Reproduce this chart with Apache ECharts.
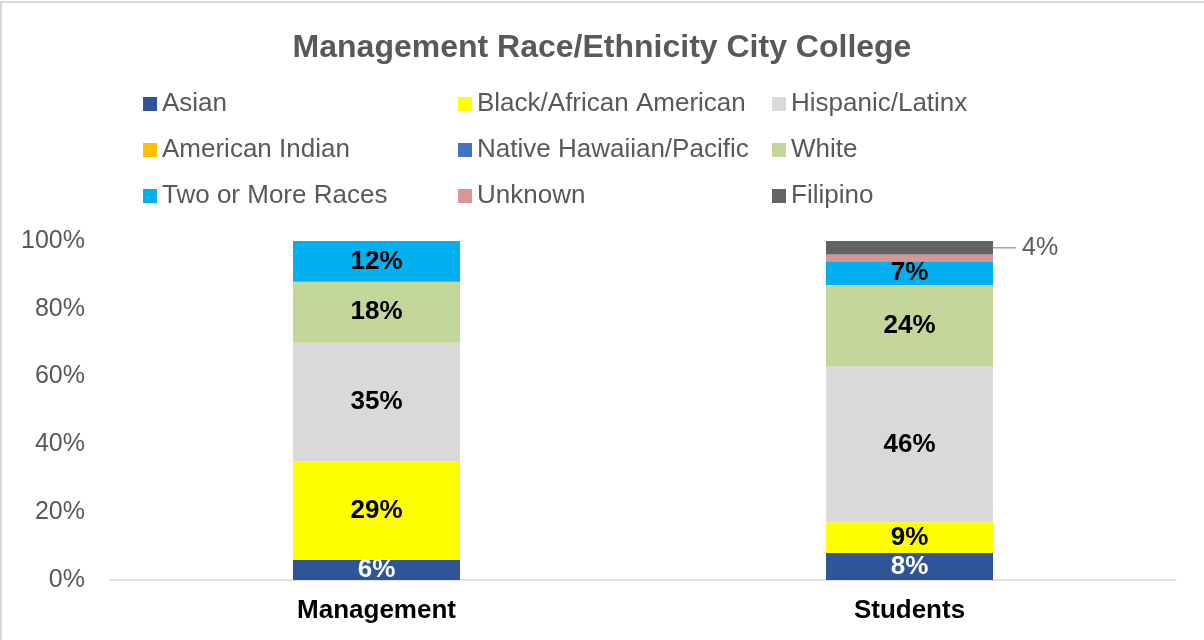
<!DOCTYPE html>
<html>
<head>
<meta charset="utf-8">
<script src="https://cdn.jsdelivr.net/npm/echarts@6/dist/echarts.min.js"></script>
<style>
  html, body { margin: 0; padding: 0; background: #fff; }
  #chart { width: 1204px; height: 640px; }
</style>
</head>
<body>
<div id="chart"></div>
<script>
// 数据
var categories = ["Management", "Students"];
var seriesNames = ["Asian", "Black/African American", "Hispanic/Latinx",
	"American Indian", "Native Hawaiian/Pacific", "White",
	"Two or More Races", "Unknown", "Filipino"];
var asian = [6, 8];
var black = [29, 9];
var hispanic = [35, 46];
var americanIndian = [0, 0];
var nativeHawaiian = [0, 0];
var white = [18, 24];
var twoOrMore = [12, 7];
var unknown = [0, 2];
var filipino = [0, 4];
var yTicks = [0, 20, 40, 60, 80, 100];

var colors = ["#2F5597", "#FFFF00", "#D9D9D9", "#FFC000", "#4472C4",
	"#C4D79B", "#00B0F0", "#DA9694", "#636363"];
var values = [asian, black, hispanic, americanIndian, nativeHawaiian,
	white, twoOrMore, unknown, filipino];
var font = "Arial, 'Liberation Sans', sans-serif";

var series = [];
for (var i = 0; i < seriesNames.length; i++) {
	var s = {
		name : seriesNames[i],
		type : "bar",
		stack : "total",
		barWidth : 167,
		data : values[i],
		itemStyle : { color : colors[i] },
		label : {
			show : true,
			position : "inside",
			fontFamily : font,
			fontSize : 26,
			fontWeight : "bold",
			color : i == 0 ? "#ffffff" : "#000000",
			formatter : function (p) {
				return p.value >= 5 ? p.value + "%" : "";
			}
		}
	};
	if (seriesNames[i] == "Filipino") {
		// 右侧标注，前面带一段引导线
		s.label = {
			show : true,
			position : "right",
			distance : 0,
			fontFamily : font,
			fontSize : 25,
			color : "#595959",
			formatter : function (p) {
				return p.value > 0 ? "{line|}{txt|" + p.value + "%}" : "";
			},
			rich : {
				line : { width : 23, height : 1.5, backgroundColor : "#A6A6A6" },
				txt : { fontFamily : font, fontSize : 25, color : "#595959", padding : [0, 0, 0, 6] }
			}
		};
	}
	series.push(s);
}

function makeLegend(names, left) {
	return {
		data : names,
		orient : "vertical",
		left : left,
		top : 91,
		padding : 0,
		itemWidth : 14,
		itemHeight : 14,
		itemGap : 20,
		icon : "rect",
		textStyle : { fontFamily : font, fontSize : 26, color : "#595959" }
	};
}

var myChart = echarts.init(document.getElementById("chart"));
var options = {
	backgroundColor : "#ffffff",
	title : {
		text : "Management Race/Ethnicity City College",
		left : "center",
		top : 27,
		textStyle : { fontFamily : font, fontSize : 32, fontWeight : "bold", color : "#595959" }
	},
	legend : [
		makeLegend([seriesNames[0], seriesNames[3], seriesNames[6]], 143),
		makeLegend([seriesNames[1], seriesNames[4], seriesNames[7]], 458),
		makeLegend([seriesNames[2], seriesNames[5], seriesNames[8]], 772)
	],
	grid : { left : 110, right : 28, top : 241, bottom : 60, containLabel : false },
	xAxis : {
		type : "category",
		data : categories,
		axisLine : { lineStyle : { color : "#D9D9D9", width : 1.5 } },
		axisTick : { show : false },
		axisLabel : {
			margin : 18,
			fontFamily : font,
			fontSize : 26,
			fontWeight : "bold",
			color : "#000000"
		}
	},
	yAxis : {
		type : "value",
		min : yTicks[0],
		max : yTicks[yTicks.length - 1],
		interval : yTicks[1] - yTicks[0],
		splitLine : { show : false },
		axisLine : { show : false },
		axisTick : { show : false },
		axisLabel : {
			margin : 25,
			formatter : "{value}%",
			fontFamily : font,
			fontSize : 25,
			color : "#595959"
		}
	},
	graphic : [{
		type : "rect",
		shape : { x : 1, y : 2, width : 1240, height : 680 },
		style : { fill : "none", stroke : "#D9D9D9", lineWidth : 2 },
		silent : true
	}],
	series : series
};
myChart.setOption(options);
</script>
</body>
</html>
